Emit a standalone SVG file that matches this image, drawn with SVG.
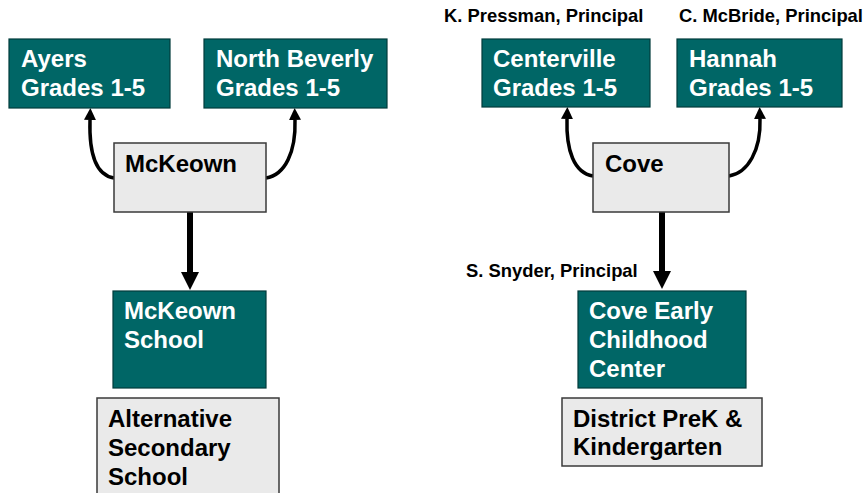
<svg xmlns="http://www.w3.org/2000/svg" width="868" height="493" viewBox="0 0 868 493">
<style>
.teal{fill:#006666;stroke:#003b3b;stroke-width:1.2}
.grey{fill:#EAEAEA;stroke:#3a3a3a;stroke-width:1.5}
text{font-family:"Liberation Sans",Arial,sans-serif;font-weight:bold}
.w{fill:#ffffff;font-size:24px}
.b{fill:#000000;font-size:24px}
.s{fill:#000000;font-size:18.4px}
.c{fill:none;stroke:#000;stroke-width:3.5}
.st{fill:none;stroke:#000;stroke-width:6}
</style>
<defs>
<marker id="ah" markerUnits="userSpaceOnUse" markerWidth="12" markerHeight="12" refX="0" refY="6" orient="auto" viewBox="0 0 12 12"><path d="M0,0 L12,6 L0,12 z" fill="#000"/></marker>
<marker id="ahb" markerUnits="userSpaceOnUse" markerWidth="18" markerHeight="18" refX="0" refY="9" orient="auto" viewBox="0 0 18 18"><path d="M0,0 L18,9 L0,18 z" fill="#000"/></marker>
</defs>
<rect width="868" height="493" fill="#ffffff"/>
<g id="connectors">
<path class="c" d="M114,178 C95,175 89,152 90,120" marker-end="url(#ah)"/>
<path class="c" d="M266,178 C285,175 296,152 295,120" marker-end="url(#ah)"/>
<path class="c" d="M593,176 C574,173 566,150 567,119" marker-end="url(#ah)"/>
<path class="c" d="M729,176 C748,173 761,150 760,119" marker-end="url(#ah)"/>
<path class="st" d="M190,212 L190,272" marker-end="url(#ahb)"/>
<path class="st" d="M662,212 L662,271" marker-end="url(#ahb)"/>
</g>
<g id="ayers"><rect class="teal" x="9" y="39" width="161" height="69"/><text class="w" x="21" y="67">Ayers</text><text class="w" x="21" y="96">Grades 1-5</text></g>
<g id="northbeverly"><rect class="teal" x="204" y="39" width="183" height="69"/><text class="w" x="216" y="67">North Beverly</text><text class="w" x="216" y="96">Grades 1-5</text></g>
<g id="mckeown"><rect class="grey" x="114" y="143" width="152" height="69"/><text class="b" x="125" y="172">McKeown</text></g>
<g id="mckeownschool"><rect class="teal" x="113" y="291" width="153" height="97"/><text class="w" x="124" y="319">McKeown</text><text class="w" x="124" y="348">School</text></g>
<g id="alternative"><rect class="grey" x="97" y="398" width="182" height="110"/><text class="b" x="108" y="427">Alternative</text><text class="b" x="108" y="456">Secondary</text><text class="b" x="108" y="485">School</text></g>
<g id="pressman"><text class="s" x="444" y="22">K. Pressman, Principal</text></g>
<g id="mcbride"><text class="s" x="679" y="22">C. McBride, Principal</text></g>
<g id="centerville"><rect class="teal" x="482" y="39" width="168" height="68"/><text class="w" x="493" y="67">Centerville</text><text class="w" x="493" y="96">Grades 1-5</text></g>
<g id="hannah"><rect class="teal" x="677" y="39" width="165" height="68"/><text class="w" x="689" y="67">Hannah</text><text class="w" x="689" y="96">Grades 1-5</text></g>
<g id="cove"><rect class="grey" x="593" y="143" width="136" height="69"/><text class="b" x="605" y="172">Cove</text></g>
<g id="snyder"><text class="s" x="466" y="277">S. Snyder, Principal</text></g>
<g id="coveearly"><rect class="teal" x="578" y="291" width="168" height="97"/><text class="w" x="589" y="319">Cove Early</text><text class="w" x="589" y="348">Childhood</text><text class="w" x="589" y="377">Center</text></g>
<g id="district"><rect class="grey" x="562" y="398" width="200" height="68"/><text class="b" x="573" y="427">District PreK &amp;</text><text class="b" x="573" y="455">Kindergarten</text></g>
</svg>
